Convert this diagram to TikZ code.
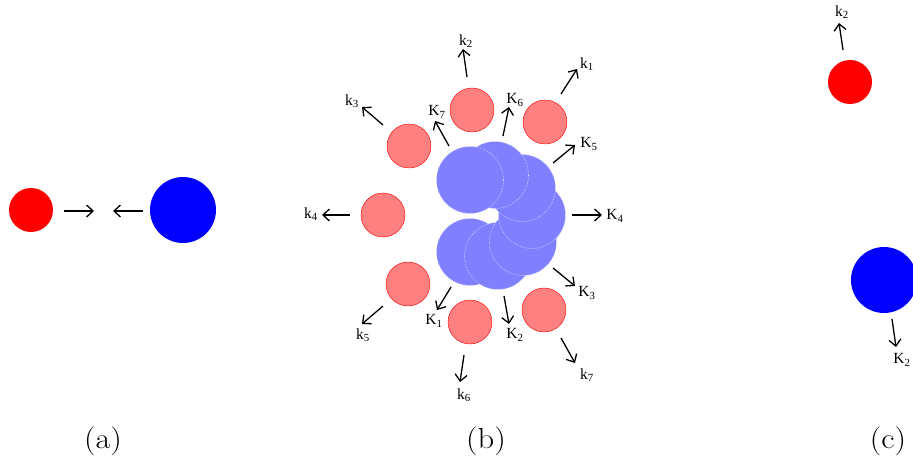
\documentclass[tikz,border=0pt]{standalone}
\usepackage{fontspec}
\newfontfamily\labfont{Liberation Serif}
\usetikzlibrary{arrows.meta}
\definecolor{lred}{HTML}{FF8080}
\definecolor{lblue}{HTML}{8080FF}
\tikzset{
  arr/.style={line width=1.3pt,-{Straight Barb[length=6.5pt,width=12pt,line width=1.3pt]}},
  redfull/.style={circle,fill=red,inner sep=0pt,minimum size=44pt},
  bluefull/.style={circle,fill=blue,inner sep=0pt,minimum size=66pt},
  redpale/.style={circle,fill=lred,draw=red,line width=0.4pt,inner sep=0pt,minimum size=44pt},
  bluepale/.style={circle,fill=lblue,draw=white!70!lblue,densely dotted,line width=0.6pt,inner sep=0pt,minimum size=67pt},
  lab/.style={inner sep=0pt,font=\labfont\fontsize{15.5}{17}\selectfont},
  captext/.style={inner sep=0pt,font=\fontsize{29}{32}\selectfont}
}
\newcommand{\kl}[1]{k\textsubscript{#1}}
\newcommand{\Kl}[1]{K\textsubscript{#1}}
\begin{document}
\begin{tikzpicture}[x=1pt,y=-1pt]
\useasboundingbox (0,0) rectangle (913,468);
% ---------- (a)
\node[redfull] (ar) at (31,210) {};
\node[bluefull] (ab) at (183,210) {};
\coordinate (a1s) at (64,211); \coordinate (a1e) at (94,211);
\coordinate (a2s) at (143,211); \coordinate (a2e) at (113,211);
\draw[arr] (a1s) -- (a1e);
\draw[arr] (a2s) -- (a2e);
\node[captext] (capa) at (103,441) {\scalebox{1.12}[1]{(a)}};
% ---------- (b) blue cluster (bottom to top)
\node[bluepale] (c7) at (470,252) {};
\node[bluepale] (c6) at (498,256) {};
\node[bluepale] (c5) at (523,242) {};
\node[bluepale] (c4) at (532,215) {};
\node[bluepale] (c3) at (522,188) {};
\node[bluepale] (c2) at (495,175) {};
\node[bluepale] (c1) at (470,180) {};
% red circles
\node[redpale] (r1) at (545,122) {};
\node[redpale] (r2) at (472,110) {};
\node[redpale] (r3) at (409,146) {};
\node[redpale] (r4) at (383,215) {};
\node[redpale] (r5) at (408,284) {};
\node[redpale] (r6) at (470,322) {};
\node[redpale] (r7) at (544,310) {};
% arrows from red circles
\coordinate (k1s) at (561,94);  \coordinate (k1e) at (577,69);
\coordinate (k2s) at (467,77);  \coordinate (k2e) at (463,49);
\coordinate (k3s) at (383,125); \coordinate (k3e) at (362,107);
\coordinate (k4s) at (350,215); \coordinate (k4e) at (322,215);
\coordinate (k5s) at (383,306); \coordinate (k5e) at (362,324);
\coordinate (k6s) at (464,355); \coordinate (k6e) at (460,382);
\coordinate (k7s) at (561,338); \coordinate (k7e) at (575,363);
\foreach \i in {1,...,7} {\draw[arr] (k\i s) -- (k\i e);}
\node[lab] (lk1) at (587,64) {\kl{1}};
\node[lab] (lk2) at (466,41) {\kl{2}};
\node[lab] (lk3) at (352,101) {\kl{3}};
\node[lab] (lk4) at (311,214) {\kl{4}};
\node[lab] (lk5) at (363,335) {\kl{5}};
\node[lab] (lk6) at (464,395) {\kl{6}};
\node[lab] (lk7) at (587,375) {\kl{7}};
% arrows from blue cluster
\coordinate (K1s) at (451,287); \coordinate (K1e) at (437,310);
\coordinate (K2s) at (504,296); \coordinate (K2e) at (509,324);
\coordinate (K3s) at (553,268); \coordinate (K3e) at (575,286);
\coordinate (K4s) at (572,215); \coordinate (K4e) at (602,215);
\coordinate (K5s) at (553,163); \coordinate (K5e) at (575,145);
\coordinate (K6s) at (503,136); \coordinate (K6e) at (509,107);
\coordinate (K7s) at (449,146); \coordinate (K7e) at (435,121);
\foreach \i in {1,...,7} {\draw[arr] (K\i s) -- (K\i e);}
\node[lab] (lK1) at (434,321) {\Kl{1}};
\node[lab] (lK2) at (515,335) {\Kl{2}};
\node[lab] (lK3) at (587,293) {\Kl{3}};
\node[lab] (lK4) at (615,216) {\Kl{4}};
\node[lab] (lK5) at (589,144) {\Kl{5}};
\node[lab] (lK6) at (515,100) {\Kl{6}};
\node[lab] (lK7) at (437,112) {\Kl{7}};
\node[captext] (capb) at (486,441) {\scalebox{1.12}[1]{(b)}};
% ---------- (c)
\node[redfull] (cr) at (850,82) {};
\node[bluefull] (cb) at (884,280) {};
\coordinate (ck1s) at (843,50);  \coordinate (ck1e) at (839,23);
\coordinate (cK1s) at (892,319); \coordinate (cK1e) at (896,347);
\draw[arr] (ck1s) -- (ck1e);
\draw[arr] (cK1s) -- (cK1e);
\node[lab] (lck) at (842,12) {\kl{2}};
\node[lab] (lcK) at (902,360) {\Kl{2}};
\node[captext] (capc) at (888,441) {\scalebox{1.12}[1]{(c)}};
\end{tikzpicture}
\end{document}
